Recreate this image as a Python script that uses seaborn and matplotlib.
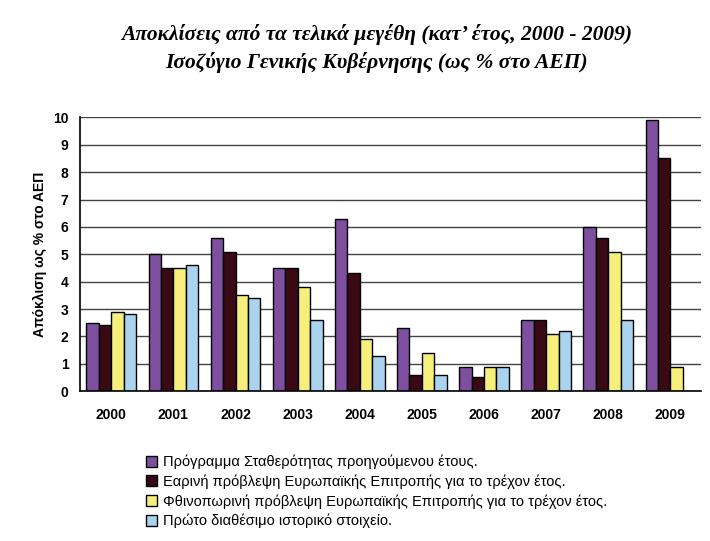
import seaborn as sns
import matplotlib.pyplot as plt
import pandas as pd
import numpy as np

# Αποκλίσεις (% ΑΕΠ) ανά έτος και πηγή πρόβλεψης
years = ["2000", "2001", "2002", "2003", "2004", "2005", "2006", "2007", "2008", "2009"]
series_names = [
    "Πρόγραμμα Σταθερότητας προηγούμενου έτους.",
    "Εαρινή πρόβλεψη Ευρωπαϊκής Επιτροπής για το τρέχον έτος.",
    "Φθινοπωρινή πρόβλεψη Ευρωπαϊκής Επιτροπής για το τρέχον έτος.",
    "Πρώτο διαθέσιμο ιστορικό στοιχείο.",
]
stability = [2.5, 5.0, 5.6, 4.5, 6.3, 2.3, 0.9, 2.6, 6.0, 9.9]
spring = [2.4, 4.5, 5.1, 4.5, 4.3, 0.6, 0.5, 2.6, 5.6, 8.5]
autumn = [2.9, 4.5, 3.5, 3.8, 1.9, 1.4, 0.9, 2.1, 5.1, 0.9]
first_hist = [2.8, 4.6, 3.4, 2.6, 1.3, 0.6, 0.9, 2.2, 2.6, np.nan]
colors = ["#7d4f9e", "#3a0a14", "#f6ef7c", "#a9d3ef"]

rows = []
for name, vals in zip(series_names, [stability, spring, autumn, first_hist]):
    for y, v in zip(years, vals):
        rows.append({"Έτος": y, "Σειρά": name, "Τιμή": v})
df = pd.DataFrame(rows)

sns.set_style("white")
plt.rcParams["font.family"] = ["Liberation Sans", "DejaVu Sans"]
plt.rcParams["text.color"] = "black"
plt.rcParams["axes.labelcolor"] = "black"
plt.rcParams["xtick.color"] = "black"
plt.rcParams["ytick.color"] = "black"

fig = plt.figure(figsize=(7.1, 5.41), dpi=100)
ax = fig.add_axes([0.113, 0.277, 0.875, 0.506])

sns.barplot(data=df, x="Έτος", y="Τιμή", hue="Σειρά", palette=colors,
            width=0.8, edgecolor="black", linewidth=1.0, ax=ax, saturation=1)

ax.set_ylim(0, 10)
ax.set_yticks(range(0, 11))
ax.yaxis.grid(True, color="#444444", linewidth=1.0)
ax.set_axisbelow(True)
for s in ["top", "right"]:
    ax.spines[s].set_visible(False)
ax.spines["left"].set_color("black")
ax.spines["bottom"].set_color("black")
ax.spines["left"].set_linewidth(1.2)
ax.spines["bottom"].set_linewidth(1.2)
ax.set_xlim(-0.5, len(years) - 0.5)
ax.set_xticks(np.arange(len(years)))
ax.set_xticklabels(years, fontsize=10, fontweight="bold")
ax.set_xticks(np.arange(len(years) + 1) - 0.5, minor=True)
ax.tick_params(axis="x", which="major", length=0, pad=12)
ax.tick_params(axis="x", which="minor", length=5, width=1.2, direction="out", color="black")
ax.tick_params(axis="y", length=5, width=1.2, direction="out", color="black", labelsize=10)
for lab in ax.get_yticklabels():
    lab.set_fontweight("bold")
ax.set_xlabel("")
ax.set_ylabel("Απόκλιση ως % στο ΑΕΠ", fontsize=10, fontweight="bold", labelpad=4)

handles, labels = ax.get_legend_handles_labels()
ax.legend_.remove()
fig.legend(handles, labels, loc="upper left", bbox_to_anchor=(0.197, 0.17),
           frameon=False, fontsize=10.5, handlelength=0.8, handleheight=0.8,
           handletextpad=0.4, labelspacing=0.35, borderaxespad=0)

fig.text(0.53, 0.936, "Αποκλίσεις από τα τελικά μεγέθη (κατ’ έτος, 2000 - 2009)",
         ha="center", va="center", fontsize=15.5, fontstyle="italic", fontweight="bold",
         family=["Liberation Serif", "DejaVu Serif"])
fig.text(0.53, 0.884, "Ισοζύγιο Γενικής Κυβέρνησης (ως % στο ΑΕΠ)",
         ha="center", va="center", fontsize=15.5, fontstyle="italic", fontweight="bold",
         family=["Liberation Serif", "DejaVu Serif"])

fig.savefig("out.png", dpi=100, facecolor="white")
